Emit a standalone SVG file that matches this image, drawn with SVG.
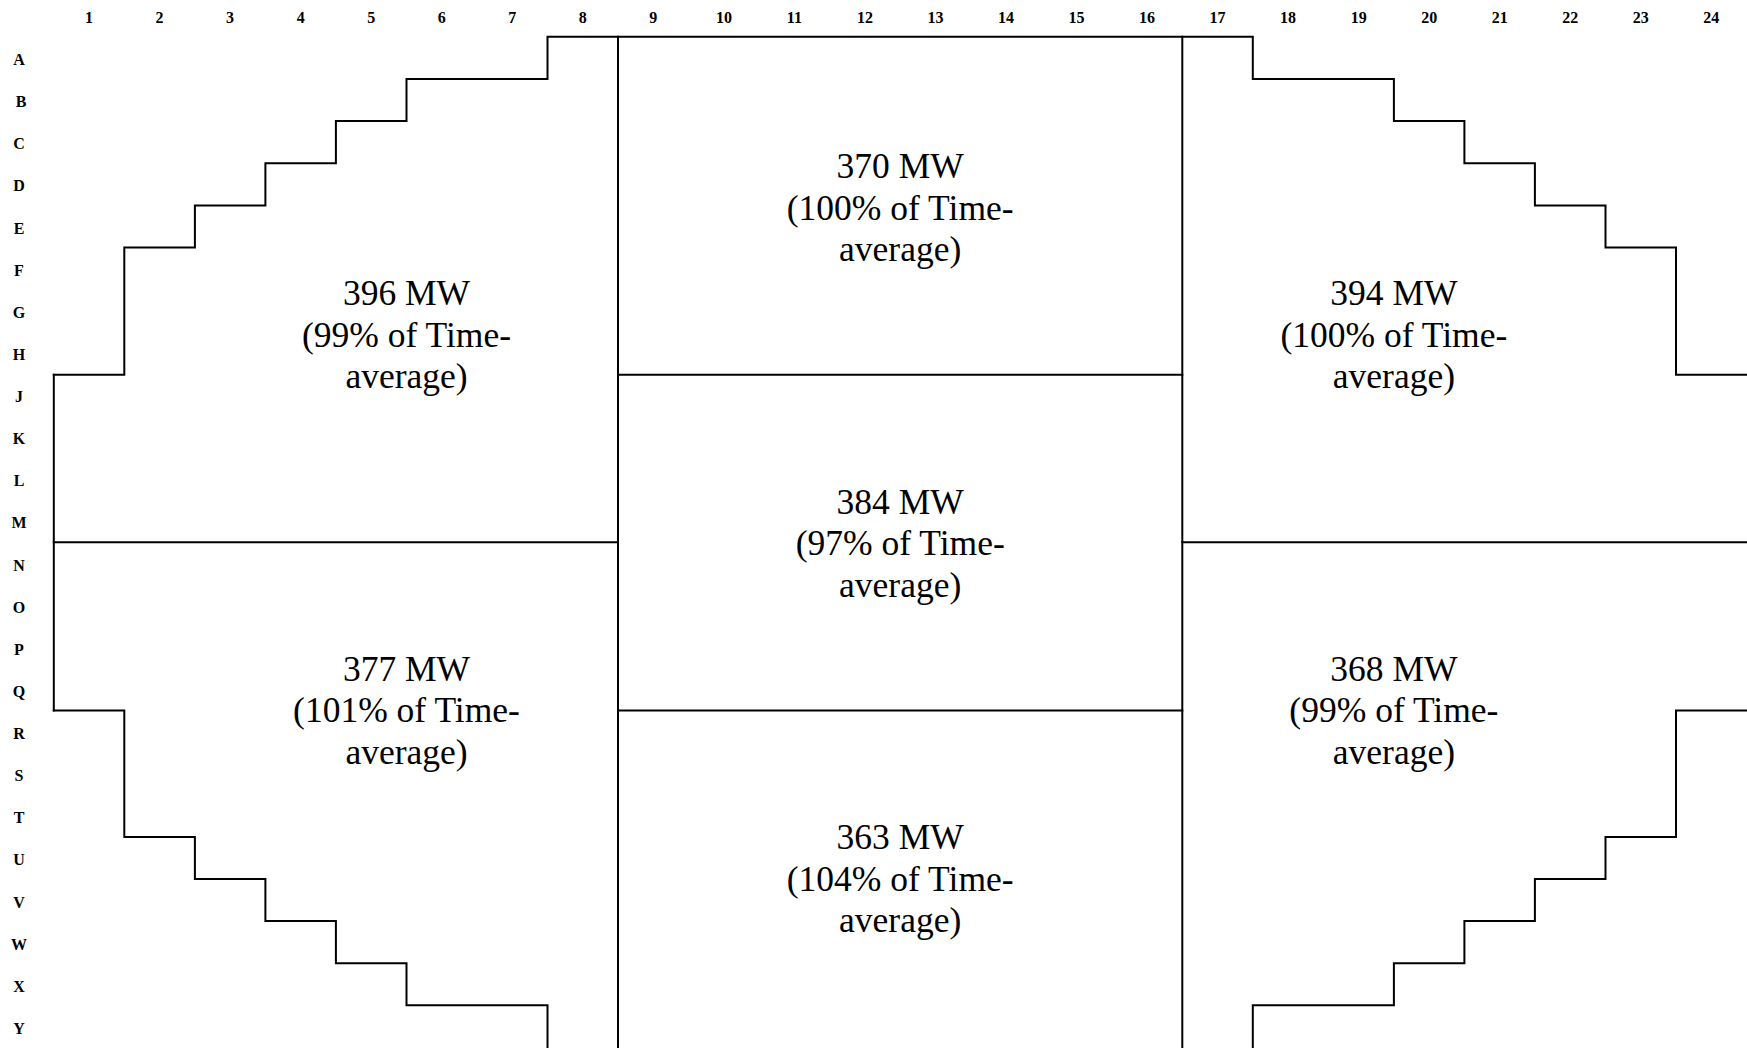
<svg xmlns="http://www.w3.org/2000/svg" width="1747" height="1048" viewBox="0 0 1747 1048">
<style>
.ln{fill:none;stroke:#000;stroke-width:2;stroke-linecap:square}
.ax{font-family:"Liberation Serif",serif;font-weight:bold;font-size:16px;text-anchor:middle;fill:#000}
.lb{font-family:"Liberation Serif",serif;font-size:35.5px;text-anchor:middle;fill:#000}
</style>
<rect width="1747" height="1048" fill="#fff"/>
<g id="col-labels" class="ax">
<text x="89.1" y="22.5">1</text><text x="159.6" y="22.5">2</text><text x="230.1" y="22.5">3</text><text x="300.7" y="22.5">4</text><text x="371.2" y="22.5">5</text><text x="441.7" y="22.5">6</text><text x="512.3" y="22.5">7</text><text x="582.8" y="22.5">8</text><text x="653.3" y="22.5">9</text><text x="723.9" y="22.5">10</text><text x="794.4" y="22.5">11</text><text x="864.9" y="22.5">12</text><text x="935.5" y="22.5">13</text><text x="1006" y="22.5">14</text><text x="1076.5" y="22.5">15</text><text x="1147.1" y="22.5">16</text><text x="1217.6" y="22.5">17</text><text x="1288.1" y="22.5">18</text><text x="1358.7" y="22.5">19</text><text x="1429.2" y="22.5">20</text><text x="1499.7" y="22.5">21</text><text x="1570.3" y="22.5">22</text><text x="1640.8" y="22.5">23</text><text x="1711.3" y="22.5">24</text>
</g>
<g id="row-labels" class="ax">
<text x="19" y="65">A</text><text x="21" y="107">B</text><text x="19" y="149">C</text><text x="19" y="191">D</text><text x="19" y="234">E</text><text x="19" y="276">F</text><text x="19" y="318">G</text><text x="19" y="360">H</text><text x="19" y="402">J</text><text x="19" y="444">K</text><text x="19" y="486">L</text><text x="19" y="528">M</text><text x="19" y="571">N</text><text x="19" y="613">O</text><text x="19" y="655">P</text><text x="19" y="697">Q</text><text x="19" y="739">R</text><text x="19" y="781">S</text><text x="19" y="823">T</text><text x="19" y="865">U</text><text x="19" y="908">V</text><text x="19" y="950">W</text><text x="19" y="992">X</text><text x="19" y="1034">Y</text>
</g>
<g id="connectors" class="ln">
<path d="M53.8 374.7 H124.3 V247.6 H194.9 V205.4 H265.4 V163.3 H335.9 V121.1 H406.5 V79 H547.5 V36.8 H1252.8 V79 H1393.9 V121.1 H1464.4 V163.3 H1534.9 V205.4 H1605.5 V247.6 H1676 V374.7 H1748"/>
<path d="M53.8 374.7 V710.6"/>
<path d="M53.8 710.6 H124.3 V836.9 H194.9 V879 H265.4 V921.1 H335.9 V963.2 H406.5 V1005.3 H547.5 V1050"/>
<path d="M1252.8 1050 V1005.3 H1393.9 V963.2 H1464.4 V921.1 H1534.9 V879 H1605.5 V836.9 H1676 V710.6 H1748"/>
<path d="M618 36.8 V1050"/>
<path d="M1182.3 36.8 V1050"/>
<path d="M53.8 542.2 H618"/>
<path d="M1182.3 542.2 H1748"/>
<path d="M618 374.7 H1182.3"/>
<path d="M618 710.6 H1182.3"/>
</g>
<g id="region-396" class="lb"><text x="406.5" y="305">396 MW</text><text x="406.5" y="346.5">(99% of Time-</text><text x="406.5" y="388">average)</text></g>
<g id="region-370" class="lb"><text x="900.2" y="178">370 MW</text><text x="900.2" y="219.5">(100% of Time-</text><text x="900.2" y="261">average)</text></g>
<g id="region-394" class="lb"><text x="1393.9" y="305">394 MW</text><text x="1393.9" y="346.5">(100% of Time-</text><text x="1393.9" y="388">average)</text></g>
<g id="region-384" class="lb"><text x="900.2" y="513.5">384 MW</text><text x="900.2" y="555">(97% of Time-</text><text x="900.2" y="596.5">average)</text></g>
<g id="region-377" class="lb"><text x="406.5" y="680.5">377 MW</text><text x="406.5" y="722">(101% of Time-</text><text x="406.5" y="763.5">average)</text></g>
<g id="region-368" class="lb"><text x="1393.9" y="680.5">368 MW</text><text x="1393.9" y="722">(99% of Time-</text><text x="1393.9" y="763.5">average)</text></g>
<g id="region-363" class="lb"><text x="900.2" y="849">363 MW</text><text x="900.2" y="890.5">(104% of Time-</text><text x="900.2" y="932">average)</text></g>
</svg>
